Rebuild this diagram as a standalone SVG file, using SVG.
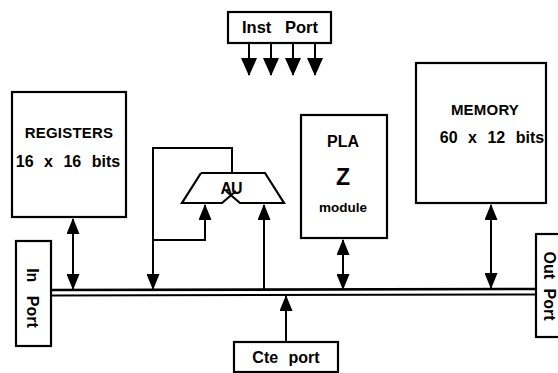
<svg xmlns="http://www.w3.org/2000/svg" width="558" height="373" viewBox="0 0 558 373">
<style>
.box{fill:#fff;stroke:#000;stroke-width:2.2}
.ln{fill:none;stroke:#000;stroke-width:2}
.t{font-family:"Liberation Sans",Arial,sans-serif;font-weight:bold;fill:#000;text-anchor:middle}
</style>
<defs>
<marker id="ah" viewBox="0 0 16 13" refX="15" refY="6.5" markerWidth="16" markerHeight="13" markerUnits="userSpaceOnUse" orient="auto-start-reverse">
<path d="M0,0 L16,6.5 L0,13 z" fill="#000"/>
</marker>
<marker id="ahb" viewBox="0 0 18 16" refX="17" refY="8" markerWidth="18" markerHeight="16" markerUnits="userSpaceOnUse" orient="auto">
<path d="M0,0 L18,8 L0,16 z" fill="#000"/>
</marker>
</defs>
<rect width="558" height="373" fill="#fff"/>

<g id="connectors">
<line class="ln" x1="249" y1="43" x2="249" y2="75" stroke-width="2.5" marker-end="url(#ahb)"/>
<line class="ln" x1="271" y1="43" x2="271" y2="75" stroke-width="2.5" marker-end="url(#ahb)"/>
<line class="ln" x1="293" y1="43" x2="293" y2="75" stroke-width="2.5" marker-end="url(#ahb)"/>
<line class="ln" x1="315" y1="43" x2="315" y2="75" stroke-width="2.5" marker-end="url(#ahb)"/>
<line class="ln" x1="73" y1="219" x2="73" y2="289" marker-start="url(#ah)" marker-end="url(#ah)"/>
<line class="ln" x1="491" y1="205" x2="491" y2="288" marker-start="url(#ah)" marker-end="url(#ah)"/>
<line class="ln" x1="343" y1="240" x2="343" y2="289" stroke-width="3" marker-start="url(#ah)" marker-end="url(#ah)"/>
<polyline class="ln" points="232,173 232,148 153,148 153,289" marker-end="url(#ah)"/>
<polyline class="ln" points="153,240 205,240 205,205" marker-end="url(#ah)"/>
<line class="ln" x1="264" y1="290" x2="264" y2="205" marker-end="url(#ah)"/>
<line class="ln" x1="286" y1="342" x2="286" y2="296" marker-end="url(#ah)"/>
<line x1="51" y1="290" x2="536" y2="289" stroke="#000" stroke-width="2.6"/>
<line x1="51" y1="295.5" x2="536" y2="294.5" stroke="#000" stroke-width="2"/>
</g>

<g id="inst-port">
<rect class="box" x="228" y="12" width="103" height="31"/>
<text class="t" x="280" y="33" font-size="16.5" word-spacing="9">Inst Port</text>
</g>

<g id="registers">
<rect class="box" x="12" y="92" width="114" height="125"/>
<text class="t" x="69" y="138" font-size="15" letter-spacing="0.2">REGISTERS</text>
<text class="t" x="68" y="167" font-size="16" word-spacing="6">16 x 16 bits</text>
</g>

<g id="au">
<path d="M201,173 L265,173 L284,203 L240,203 L226,191 M201,173 L182,203 L222,203 L236,191" fill="#fff" stroke="#000" stroke-width="2.2" stroke-linejoin="miter"/>
<text class="t" x="231" y="194" font-size="16" letter-spacing="-1">AU</text>
</g>

<g id="pla">
<rect class="box" x="301" y="115" width="86" height="123"/>
<text class="t" x="343" y="147" font-size="16">PLA</text>
<text class="t" x="343" y="185" font-size="23">Z</text>
<text class="t" x="343" y="212" font-size="13.5">module</text>
</g>

<g id="memory">
<rect class="box" x="416" y="63" width="130" height="140"/>
<text class="t" x="485" y="115" font-size="15" letter-spacing="0.2">MEMORY</text>
<text class="t" x="492" y="143" font-size="16" word-spacing="6">60 x 12 bits</text>
</g>

<g id="in-port">
<rect class="box" x="16" y="241" width="35" height="105"/>
<text class="t" x="0" y="0" font-size="16" word-spacing="9" transform="translate(27 298) rotate(90)">In Port</text>
</g>

<g id="out-port">
<rect class="box" x="536" y="234" width="30" height="103"/>
<text class="t" x="0" y="0" font-size="16" word-spacing="5" transform="translate(544 286) rotate(90)">Out Port</text>
</g>

<g id="cte-port">
<rect class="box" x="234" y="342" width="104" height="30"/>
<text class="t" x="286" y="363" font-size="16" word-spacing="6">Cte port</text>
</g>
</svg>
